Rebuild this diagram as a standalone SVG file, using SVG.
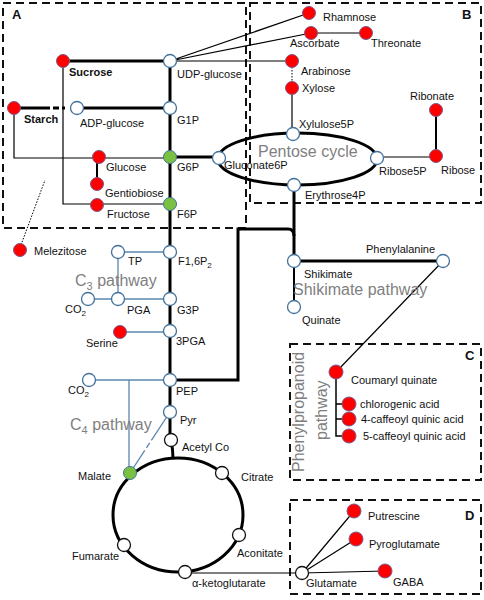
<svg xmlns="http://www.w3.org/2000/svg" width="484" height="600" viewBox="0 0 484 600">
<style>
text{font-family:"Liberation Sans",Arial,sans-serif;font-size:11px;fill:#111}
.b{font-weight:bold}
.big{font-size:16px;fill:#7f7f7f}
.box{fill:none;stroke:#111;stroke-width:2;stroke-dasharray:8,5}
.o{fill:#fff;stroke:#41719c;stroke-width:1.3}
.ok{fill:#fff;stroke:#111;stroke-width:1.3}
.r{fill:#f00;stroke:#7a5a8a;stroke-width:1}
.g{fill:#7ac142;stroke:#41719c;stroke-width:1}
.th{stroke:#000;stroke-width:3;fill:none}
.tn{stroke:#000;stroke-width:1.2;fill:none}
.bl{stroke:#5b86b0;stroke-width:1.3;fill:none}
</style>
<g id="boxes">
<rect class="box" x="3" y="3" width="243" height="225"/>
<rect class="box" x="250" y="3" width="231" height="200"/>
<rect class="box" x="290" y="344" width="191" height="136"/>
<rect class="box" x="290" y="500" width="191" height="94"/>
<text class="b" x="12" y="19" style="font-size:13px">A</text>
<text class="b" x="462" y="19" style="font-size:13px">B</text>
<text class="b" x="465" y="360" style="font-size:13px">C</text>
<text class="b" x="465" y="520" style="font-size:13px">D</text>
</g>
<g id="connectors">
<path class="th" d="M170 61V440"/>
<path class="th" d="M63 61H170"/>
<path class="th" d="M77 108H170"/>
<path class="th" d="M14 108H50M53 108H59M62 108H65"/>
<path class="th" d="M170 157H219"/>
<ellipse class="th" cx="297.5" cy="159" rx="79.5" ry="26"/>
<ellipse class="th" cx="178" cy="515" rx="65" ry="57"/>
<path class="th" d="M171 440Q173 450 173 458"/>
<path class="th" d="M170 380H238V229H288Q294 229 294 236V261H443"/>
<path class="th" d="M294 185V236"/>
<path class="tn" d="M63 61V204H170"/>
<path class="tn" d="M14 108V158H170"/>
<path class="tn" d="M97 157V184" style="stroke-width:2"/>
<path class="tn" d="M21 245L45 180" style="stroke-dasharray:1.5,1.5;stroke-width:1"/>
<path class="tn" d="M170 61L309 13M170 61L311 33M170 61H292"/>
<path class="tn" d="M311 33H366"/>
<path class="tn" d="M292 67V82" style="stroke-dasharray:1.5,1.5;stroke-width:1"/>
<path class="tn" d="M292 88V134"/>
<path class="tn" d="M377 157H436"/>
<path class="tn" d="M436 110V156" style="stroke-width:2"/>
<path class="tn" d="M294 261V307" style="stroke-width:2"/>
<path class="tn" d="M443 261L336 372"/>
<path class="tn" d="M336 372V436H343M336 404H343M336 419H343" style="stroke-width:1.5"/>
<path class="tn" d="M185 573H302M302 573L354 511M302 573L356 539M302 573L385 571"/>
<path class="bl" d="M118 252H170M118 252V299M88 299H170M120 332H170M88 380H170M129 380V473"/>
<path class="bl" d="M170 412L130 473" style="stroke-dasharray:34,3,6,3,40"/>
</g>
<g id="n-sucrose"><circle class="r" cx="63" cy="61" r="6.5"/><text class="b" x="69" y="76">Sucrose</text></g>
<g id="n-udpglucose"><circle class="o" cx="170" cy="61" r="6.5"/><text x="177" y="78">UDP-glucose</text></g>
<g id="n-starch"><circle class="r" cx="14" cy="108" r="6.5"/><text class="b" x="24" y="123">Starch</text></g>
<g id="n-adpglucose"><circle class="o" cx="77" cy="108" r="6.5"/><text x="80" y="127">ADP-glucose</text></g>
<g id="n-g1p"><circle class="o" cx="170" cy="108" r="6.5"/><text x="177" y="124">G1P</text></g>
<g id="n-glucose"><circle class="r" cx="99" cy="157" r="6.5"/><text x="106" y="171">Glucose</text></g>
<g id="n-g6p"><circle class="g" cx="170" cy="157" r="6.5"/><text x="177" y="171">G6P</text></g>
<g id="n-gentiobiose"><circle class="r" cx="97" cy="184" r="6.5"/><text x="105" y="197">Gentiobiose</text></g>
<g id="n-fructose"><circle class="r" cx="97" cy="205" r="6.5"/><text x="107" y="218">Fructose</text></g>
<g id="n-f6p"><circle class="g" cx="170" cy="204" r="6.5"/><text x="177" y="218">F6P</text></g>
<g id="n-melezitose"><circle class="r" cx="20" cy="250" r="6.5"/><text x="34" y="255">Melezitose</text></g>
<g id="n-gluconate6p"><circle class="o" cx="219" cy="158" r="6.5"/><text x="224" y="169">Gluconate6P</text></g>
<g id="n-rhamnose"><circle class="r" cx="309" cy="13" r="6.5"/><text x="323" y="21">Rhamnose</text></g>
<g id="n-ascorbate"><circle class="r" cx="311" cy="33" r="6.5"/><text x="290" y="47">Ascorbate</text></g>
<g id="n-threonate"><circle class="r" cx="366" cy="33" r="6.5"/><text x="371" y="47">Threonate</text></g>
<g id="n-arabinose"><circle class="r" cx="292" cy="61" r="6.5"/><text x="301" y="75">Arabinose</text></g>
<g id="n-xylose"><circle class="r" cx="292" cy="88" r="6.5"/><text x="302" y="92">Xylose</text></g>
<g id="n-ribonate"><circle class="r" cx="436" cy="110" r="6.5"/><text x="410" y="100">Ribonate</text></g>
<g id="n-ribose"><circle class="r" cx="436" cy="156" r="6.5"/><text x="441" y="174">Ribose</text></g>
<g id="n-xylulose5p"><circle class="o" cx="293" cy="134" r="6.5"/><text x="299" y="128">Xylulose5P</text></g>
<g id="n-ribose5p"><circle class="o" cx="377" cy="158" r="6.5"/><text x="379" y="175">Ribose5P</text></g>
<g id="n-erythrose4p"><circle class="o" cx="294" cy="185" r="6.5"/><text x="305" y="199">Erythrose4P</text></g>
<text class="big" x="258" y="157">Pentose cycle</text>
<g id="n-shikimate"><circle class="o" cx="294" cy="261" r="6.5"/><text x="304" y="278">Shikimate</text></g>
<g id="n-phenylalanine"><circle class="o" cx="443" cy="261" r="6.5"/><text x="366" y="253">Phenylalanine</text></g>
<g id="n-quinate"><circle class="o" cx="294" cy="307" r="6.5"/><text x="302" y="324">Quinate</text></g>
<text class="big" x="293" y="295">Shikimate pathway</text>
<g id="n-coumaryl"><circle class="r" cx="336" cy="372" r="7"/><text x="351" y="384">Coumaryl quinate</text></g>
<g id="n-chlorogenic"><circle class="r" cx="349" cy="404" r="7"/><text x="360" y="408">chlorogenic acid</text></g>
<g id="n-4caffeoyl"><circle class="r" cx="349" cy="419" r="7"/><text x="361" y="423">4-caffeoyl quinic acid</text></g>
<g id="n-5caffeoyl"><circle class="r" cx="349" cy="436" r="7"/><text x="363" y="440">5-caffeoyl quinic acid</text></g>
<text class="big" transform="translate(304,472) rotate(-90)">Phenylpropanoid</text>
<text class="big" transform="translate(327,440) rotate(-90)">pathway</text>
<g id="n-f16p2"><circle class="o" cx="170" cy="252" r="6.5"/><text x="178" y="265">F1,6P<tspan dy="3" style="font-size:8px">2</tspan></text></g>
<g id="n-tp"><circle class="o" cx="118" cy="252" r="6.5"/><text x="128" y="265">TP</text></g>
<text class="big" x="75" y="286">C<tspan dy="4" style="font-size:11px">3</tspan><tspan dy="-4"> pathway</tspan></text>
<g id="n-co2a"><circle class="o" cx="88" cy="299" r="6.5"/><text x="65" y="313">CO<tspan dy="3" style="font-size:8px">2</tspan></text></g>
<g id="n-pga"><circle class="o" cx="118" cy="299" r="6.5"/><text x="127" y="314">PGA</text></g>
<g id="n-g3p"><circle class="o" cx="170" cy="299" r="6.5"/><text x="177" y="314">G3P</text></g>
<g id="n-serine"><circle class="r" cx="120" cy="332" r="6.5"/><text x="86" y="347">Serine</text></g>
<g id="n-3pga"><circle class="o" cx="170" cy="331" r="6.5"/><text x="176" y="345">3PGA</text></g>
<g id="n-co2b"><circle class="o" cx="89" cy="380" r="6.5"/><text x="68" y="394">CO<tspan dy="3" style="font-size:8px">2</tspan></text></g>
<g id="n-pep"><circle class="o" cx="170" cy="380" r="6.5"/><text x="176" y="395">PEP</text></g>
<g id="n-pyr"><circle class="o" cx="170" cy="412" r="6.5"/><text x="180" y="424">Pyr</text></g>
<text class="big" x="70" y="430">C<tspan dy="4" style="font-size:11px">4</tspan><tspan dy="-4"> pathway</tspan></text>
<g id="n-acetylco"><circle class="ok" cx="171" cy="440" r="6.5"/><text x="182" y="451">Acetyl Co</text></g>
<g id="n-malate"><circle class="g" cx="130" cy="473" r="6.5"/><text x="78" y="480">Malate</text></g>
<g id="n-citrate"><circle class="ok" cx="222" cy="473" r="6.5"/><text x="241" y="481">Citrate</text></g>
<g id="n-aconitate"><circle class="ok" cx="239" cy="535" r="6.5"/><text x="237" y="557">Aconitate</text></g>
<g id="n-fumarate"><circle class="ok" cx="124" cy="545" r="6.5"/><text x="72" y="560">Fumarate</text></g>
<g id="n-aketoglutarate"><circle class="ok" cx="185" cy="572" r="6.5"/><text x="192" y="587">α-ketoglutarate</text></g>
<g id="n-glutamate"><circle class="ok" cx="302" cy="573" r="6.5"/><text x="306" y="587">Glutamate</text></g>
<g id="n-putrescine"><circle class="r" cx="354" cy="511" r="7"/><text x="368" y="520">Putrescine</text></g>
<g id="n-pyroglutamate"><circle class="r" cx="356" cy="539" r="7"/><text x="369" y="548">Pyroglutamate</text></g>
<g id="n-gaba"><circle class="r" cx="385" cy="571" r="7"/><text x="393" y="586">GABA</text></g>
</svg>
